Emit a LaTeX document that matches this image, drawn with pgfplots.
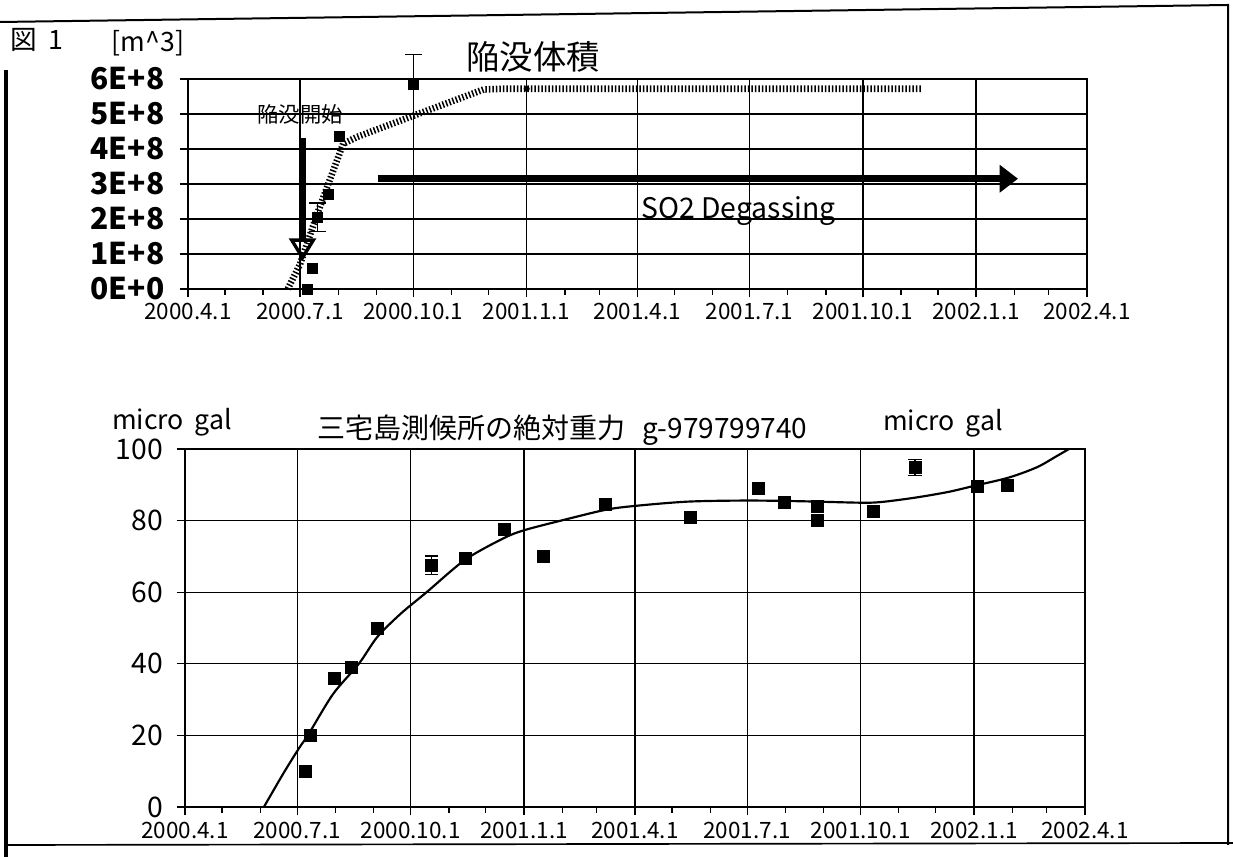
\documentclass[border=0pt]{standalone}
\usepackage{fontspec}
\setmainfont{Noto Sans CJK JP}
\usepackage{pgfplots}
\pgfplotsset{compat=1.18}
\usetikzlibrary{arrows.meta}

% x axis: days counted from 2000-04-01
\pgfplotsset{
  datechart/.style={
    scale only axis,
    xmin=0, xmax=730,
    xtick={0,91,183,275,365,456,548,640,730},
    xticklabels={2000.4.1,2000.7.1,2000.10.1,2001.1.1,2001.4.1,2001.7.1,2001.10.1,2002.1.1,2002.4.1},
    minor xtick={30,61,122,153,214,244,306,334,395,426,487,518,579,609,671,699},
    grid=major,
    major grid style={black, line width=0.8pt},
    axis line style={black, line width=0.9pt},
    tick align=outside,
    tick pos=left,
    tick style={black, line width=0.8pt},
    major tick length=5pt,
    minor tick length=3.5pt,
    xticklabel style={font=\fontsize{13.5}{13.5}\selectfont, inner sep=0pt},
    yticklabel style={inner sep=0pt},
  },
}

\begin{document}
\begin{tikzpicture}
\useasboundingbox (0,0) rectangle (739.8pt,514.2pt);

% ---------- subsidence volume ----------
\begin{axis}[datechart,
  at={(112.8pt,340.8pt)}, anchor=south west,
  width=539.4pt, height=126pt,
  ymin=0, ymax=6e8,
  ytick={0,1e8,2e8,3e8,4e8,5e8,6e8},
  yticklabels={0E+0,1E+8,2E+8,3E+8,4E+8,5E+8,6E+8},
  scaled y ticks=false,
  yticklabel style={font=\fontsize{18}{18}\selectfont\bfseries, xshift=-9pt},
  xticklabel style={yshift=-3.5pt},
  clip=false,
]
% smoothed volume curve
\addplot[black, line width=4pt, dash pattern=on 0.9pt off 1.2pt]
  coordinates {(81,0) (91,0.71e8) (105,2.15e8) (126,4.15e8) (137,4.34e8)
               (183,4.95e8) (240,5.70e8) (255,5.72e8) (596,5.72e8)};
\addplot[only marks, mark=*, mark size=1.6pt, black] coordinates {(275,5.72e8)};
% measured volumes
\addplot[only marks, mark=square*, mark size=3pt, black]
  coordinates {(97,0) (101,0.6e8) (114,2.7e8) (123,4.35e8)};
\addplot[only marks, mark=square*, mark size=3pt, black,
  error bars/.cd, y dir=both, y explicit,
  error bar style={line width=0.8pt},
  error mark options={rotate=90, black, mark size=5pt, line width=0.8pt}]
  coordinates {(105,2.05e8) +- (0,0.41e8) (183,5.85e8) +- (0,0.85e8)};
% onset of collapse
\addplot[black, line width=3.6pt,
  -{Triangle[open, length=13.5pt, width=16pt, line width=2pt]}]
  coordinates {(93,4.3e8) (93,0.8e8)};
% SO2 degassing period
\addplot[black, line width=4pt, -{Triangle[length=11pt, width=16pt]}]
  coordinates {(154,3.15e8) (674,3.15e8)};
\node[anchor=base west, inner sep=0pt, font=\fontsize{17}{17}\selectfont]
  at (axis cs:368,2.0e8) {SO2 Degassing};
\end{axis}

% ---------- absolute gravity ----------
\begin{axis}[datechart,
  at={(111pt,30pt)}, anchor=south west,
  width=540pt, height=214.8pt,
  ymin=0, ymax=100,
  ytick={0,20,40,60,80,100},
  yticklabels={0,20,40,60,80,100},
  yticklabel style={font=\fontsize{17}{17}\selectfont, xshift=-8pt},
  xticklabel style={yshift=-4pt},
]
\addplot[black, line width=1.3pt, smooth, tension=0.5]
  coordinates {(64,0) (80,9.5) (93,16.7) (100,20.2) (120,31.5) (141,40)
               (156,47.5) (175,54) (196,60) (227,69) (258,75) (275,77.3)
               (305,80) (341,83) (365,84.1) (408,85.3) (456,85.6) (500,85.4)
               (548,85) (565,85.2) (592,86.4) (619,88) (640,89.7) (668,92)
               (691,94.9) (707,98) (717,100)};
\addplot[only marks, mark=square*, mark size=3.6pt, black]
  coordinates {(98,10) (102,20) (121,36) (135,39) (156,50) (227,69.5)
               (259,77.5) (291,70) (341,84.6) (410,81) (465,89) (486,85)
               (513,84) (513,80) (558,82.6) (643,89.7) (667,89.9)};
\addplot[only marks, mark=square*, mark size=3.6pt, black,
  error bars/.cd, y dir=both, y explicit,
  error bar style={line width=0.8pt},
  error mark options={rotate=90, black, mark size=4pt, line width=0.8pt}]
  coordinates {(200,67.5) +- (0,2.6) (592,94.8) +- (0,2.2)};
\end{axis}

% ---------- texts ----------
\node[anchor=west, inner sep=0pt, font=\fontsize{16}{16}\selectfont]
  at (6pt,490.2pt) {図\hspace{7pt}1};
\node[inner sep=0pt, font=\fontsize{16}{16}\selectfont]
  at (88.8pt,488.4pt) {[m\textasciicircum 3]};
\node[inner sep=0pt, font=\fontsize{20}{20}\selectfont]
  at (319.8pt,480pt) {陥没体積};
\node[inner sep=0pt, font=\fontsize{12.8}{12.8}\selectfont]
  at (180pt,445.8pt) {陥没開始};
\node[inner sep=0pt, font=\fontsize{16}{16}\selectfont]
  at (103.2pt,261pt) {micro\hspace{0.4em}gal};
\node[anchor=west, inner sep=0pt, font=\fontsize{16.8}{16.8}\selectfont]
  at (190.2pt,256.2pt) {三宅島測候所の絶対重力\hspace{0.6em}g-979799740};
\node[inner sep=0pt, font=\fontsize{16}{16}\selectfont]
  at (565.8pt,260.4pt) {micro\hspace{0.4em}gal};

% ---------- page frame ----------
\draw[line width=1.2pt] (0pt,501pt) -- (736.8pt,511.2pt) -- (736.8pt,7.2pt);
\draw[line width=1pt] (3.6pt,7.2pt) -- (739.8pt,8.4pt);
\draw[line width=2.4pt] (3.6pt,472.2pt) -- (3.6pt,0pt);
\end{tikzpicture}
\end{document}
